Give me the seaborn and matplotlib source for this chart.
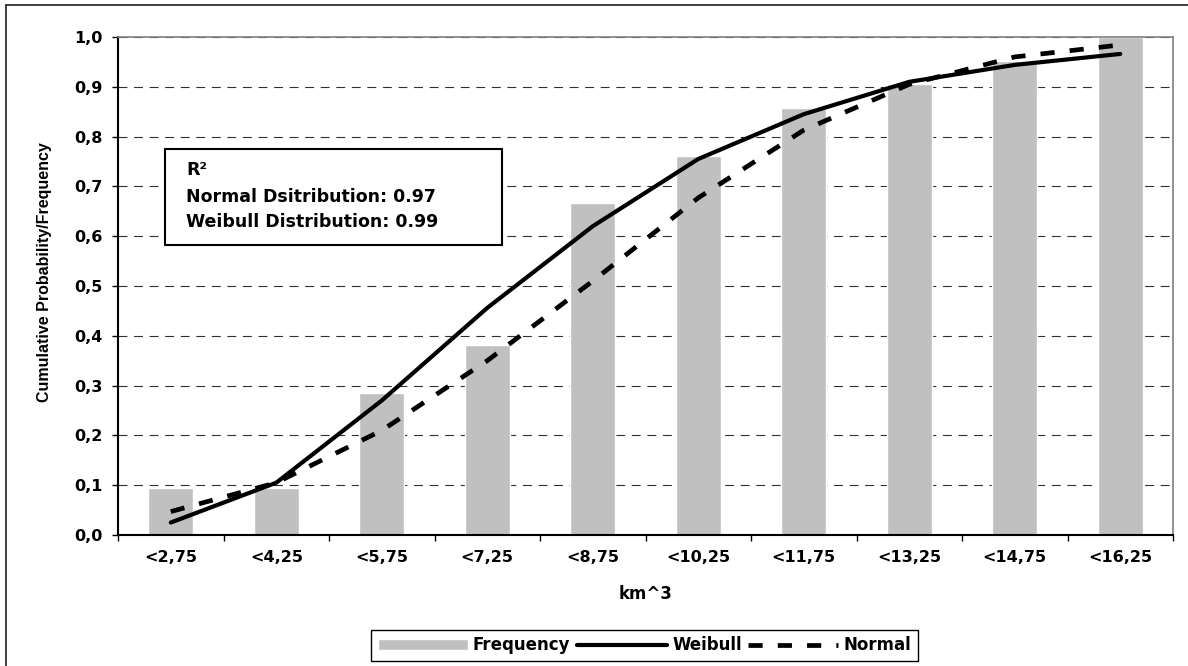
import numpy as np
import pandas as pd
import matplotlib
matplotlib.use("Agg")
import matplotlib.pyplot as plt
from matplotlib.patches import Rectangle
from matplotlib.lines import Line2D
import seaborn as sns

# ---- data ----
categories = ["<2,75", "<4,25", "<5,75", "<7,25", "<8,75",
              "<10,25", "<11,75", "<13,25", "<14,75", "<16,25"]
frequency = [0.095, 0.095, 0.286, 0.381, 0.667, 0.762, 0.857, 0.905, 0.952, 1.0]
weibull = [0.025, 0.105, 0.27, 0.456, 0.62, 0.755, 0.845, 0.91, 0.944, 0.966]
normal = [0.047, 0.105, 0.21, 0.35, 0.51, 0.677, 0.813, 0.905, 0.96, 0.984]
y_ticks = [0.0, 0.1, 0.2, 0.3, 0.4, 0.5, 0.6, 0.7, 0.8, 0.9, 1.0]
y_tick_labels = ["0,0", "0,1", "0,2", "0,3", "0,4", "0,5", "0,6", "0,7", "0,8", "0,9", "1,0"]
r2_lines = ["R\u00b2", "Normal Dsitribution: 0.97", "Weibull Distribution: 0.99"]

sns.set_theme(style="white")
plt.rcParams["font.family"] = ["DejaVu Sans"]
plt.rcParams.update({"text.color": "black", "axes.labelcolor": "black",
                     "xtick.color": "black", "ytick.color": "black"})

W, H = 1188, 666
fig = plt.figure(figsize=(W / 100, H / 100), dpi=100)
ax = fig.add_axes([118 / W, 1 - 535 / H, 1055 / W, 498 / H])

df = pd.DataFrame({"cat": categories, "freq": frequency})
pos = np.arange(len(categories))

sns.barplot(data=df, x="cat", y="freq", color="#C0C0C0", saturation=1,
            width=0.43, ax=ax, label="Frequency", zorder=2)
sns.lineplot(x=pos, y=weibull, color="black", lw=3.0, ax=ax, label="Weibull",
             sort=False, errorbar=None, solid_capstyle="round", zorder=4)
sns.lineplot(x=pos, y=normal, color="black", lw=3.4, ax=ax, label="Normal",
             sort=False, errorbar=None, linestyle=(0, (3.0, 3.2)), zorder=3)

ax.set_xlim(-0.5, len(categories) - 0.5)
ax.set_ylim(0, 1.0)

# y axis
ax.set_yticks(y_ticks)
ax.set_yticklabels(y_tick_labels, fontsize=11.5, fontweight="bold", color="black")
ax.tick_params(axis="y", direction="out", length=4, width=1, color="black",
               pad=7, left=True)

# x axis: ticks at category boundaries, labels centred
ax.set_xticks(np.arange(-0.5, len(categories), 1.0))
ax.set_xticklabels([])
ax.set_xticks(pos, minor=True)
ax.set_xticklabels(categories, minor=True, fontsize=11.5, fontweight="bold",
                   color="black")
ax.tick_params(axis="x", which="major", direction="out", length=4, width=1,
               color="black", bottom=True)
ax.tick_params(axis="x", which="minor", length=0, pad=11)

ax.set_xlabel("km^3", fontsize=12, fontweight="bold", labelpad=14, color="black")
ax.set_ylabel("")

# grid
ax.yaxis.grid(True, color="#303030", lw=0.8, linestyle=(0, (8, 6)))
ax.xaxis.grid(False)
ax.set_axisbelow(True)

for s in ["left", "bottom"]:
    ax.spines[s].set_color("black")
    ax.spines[s].set_linewidth(1.5)
for s in ["top", "right"]:
    ax.spines[s].set_color("#808080")
    ax.spines[s].set_linewidth(1.2)
    ax.spines[s].set_visible(True)

# R^2 box
ax.add_patch(Rectangle((0.0445, 0.582), 0.3195, 0.193, transform=ax.transAxes,
                       facecolor="white", edgecolor="black", lw=1.5, zorder=6))
for txt, yy in zip(r2_lines, [0.733, 0.679, 0.6285]):
    ax.text(0.0645, yy, txt, transform=ax.transAxes, fontsize=12.5,
            fontweight="bold", va="center", ha="left", zorder=7, color="black")

# y label
fig.text(45 / W, 1 - 272 / H, "Cumulative Probability/Frequency", rotation=90,
         ha="center", va="center", fontsize=11.5, fontweight="bold",
         color="black", family=["Liberation Sans", "DejaVu Sans"])

# legend
handles, labels = ax.get_legend_handles_labels()
hmap = dict(zip(labels, handles))
order = ["Frequency", "Weibull", "Normal"]
leg = fig.legend([hmap[k] for k in order], order, loc="center",
                 bbox_to_anchor=(644.5 / W, 1 - 645.5 / H), ncol=3,
                 frameon=True, fancybox=False, edgecolor="black", framealpha=1,
                 prop={"weight": "bold", "size": 12}, handlelength=5.4,
                 handletextpad=0.3, columnspacing=0.4, borderpad=0.4,
                 handleheight=0.6)
leg.get_frame().set_linewidth(1.0)
for t in leg.get_texts():
    t.set_color("black")
if ax.get_legend() is not None:
    ax.get_legend().remove()

# outer chart frame (left and top visible)
fig.add_artist(Line2D([6 / W, 6 / W], [0, 1 - 5 / H], transform=fig.transFigure,
                      color="#202020", lw=1.2))
fig.add_artist(Line2D([6 / W, 1], [1 - 5 / H, 1 - 5 / H], transform=fig.transFigure,
                      color="#202020", lw=1.2))

fig.savefig("out.png", dpi=100, facecolor="white")
